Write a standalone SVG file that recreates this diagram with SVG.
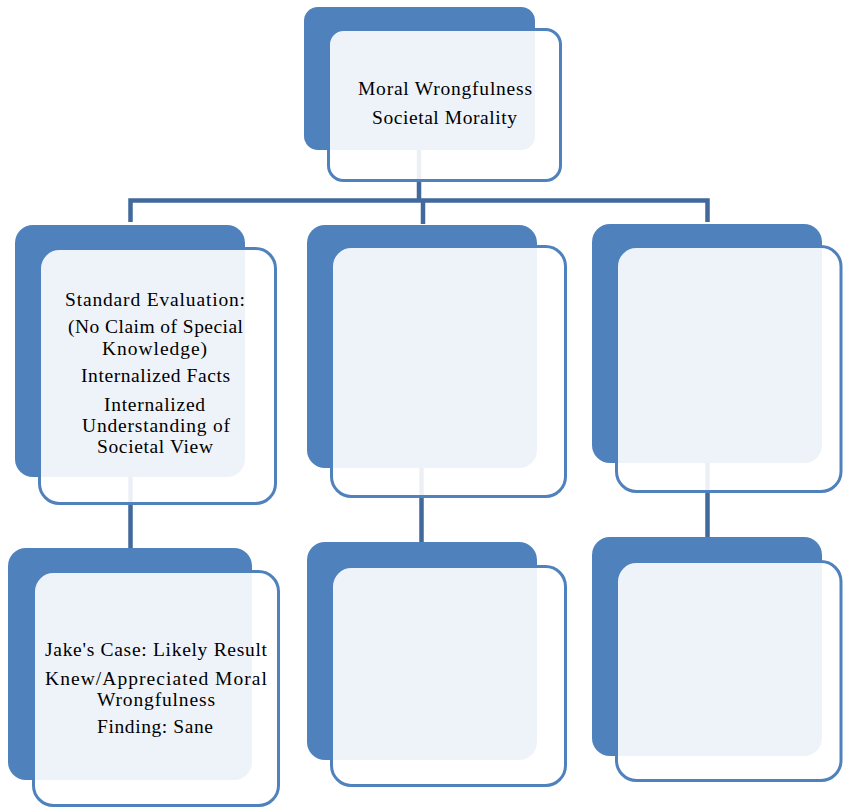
<svg xmlns="http://www.w3.org/2000/svg" width="843" height="808" viewBox="0 0 843 808">
<style>
.blue{fill:#4f81bd}
.box{fill:#ffffff;fill-opacity:0.9;stroke:#4f81bd;stroke-width:3}
.conn{fill:none;stroke:#41699c;stroke-width:4.5}
.t{font-family:"Liberation Serif","Times New Roman",serif;font-size:19.5px;fill:#000;text-anchor:middle}
</style>
<rect width="843" height="808" fill="#ffffff"/>
<g id="connectors">
<path class="conn" d="M419,150 V200.5 M130.5,222 V200.5 H707.5 V222 M423,200.5 V224"/>
<path class="conn" d="M130.5,477 V548"/>
<path class="conn" d="M421.5,468 V542"/>
<path class="conn" d="M707.5,463 V537"/>
</g>
<g id="node-top">
<rect class="blue" x="304" y="7" width="231" height="143" rx="14"/>
<rect class="box" x="328.5" y="29.5" width="232" height="151" rx="15"/>
<text class="t" x="445" y="95" textLength="174" lengthAdjust="spacing">Moral Wrongfulness</text>
<text class="t" x="444.5" y="124" textLength="145" lengthAdjust="spacing">Societal Morality</text>
</g>
<g id="node-standard">
<rect class="blue" x="15" y="225" width="230" height="252" rx="18"/>
<rect class="box" x="39.5" y="248.5" width="236" height="255" rx="20"/>
<text class="t" x="155" y="306" textLength="180" lengthAdjust="spacing">Standard Evaluation:</text>
<text class="t" x="155.5" y="333" textLength="175" lengthAdjust="spacing">(No Claim of Special</text>
<text class="t" x="154.5" y="355" textLength="105" lengthAdjust="spacing">Knowledge)</text>
<text class="t" x="155.5" y="382" textLength="149" lengthAdjust="spacing">Internalized Facts</text>
<text class="t" x="154.5" y="411" textLength="101" lengthAdjust="spacing">Internalized</text>
<text class="t" x="156" y="432" textLength="148" lengthAdjust="spacing">Understanding of</text>
<text class="t" x="155" y="453" textLength="116" lengthAdjust="spacing">Societal View</text>
</g>
<g id="node-mid">
<rect class="blue" x="307" y="225" width="230" height="243" rx="18"/>
<rect class="box" x="331.5" y="246.5" width="234" height="250" rx="20"/>
</g>
<g id="node-right">
<rect class="blue" x="592" y="224" width="230" height="239" rx="18"/>
<rect class="box" x="616.5" y="246.5" width="224.5" height="245" rx="20"/>
</g>
<g id="node-jake">
<rect class="blue" x="8" y="548" width="244" height="232" rx="18"/>
<rect class="box" x="33.5" y="571.5" width="245" height="234" rx="20"/>
<text class="t" x="156" y="656" textLength="222" lengthAdjust="spacing">Jake's Case: Likely Result</text>
<text class="t" x="156" y="685" textLength="222" lengthAdjust="spacing">Knew/Appreciated Moral</text>
<text class="t" x="156" y="706" textLength="118" lengthAdjust="spacing">Wrongfulness</text>
<text class="t" x="155" y="733" textLength="116" lengthAdjust="spacing">Finding: Sane</text>
</g>
<g id="node-mid-bottom">
<rect class="blue" x="307" y="542" width="230" height="218" rx="18"/>
<rect class="box" x="331.5" y="566.5" width="234" height="219" rx="20"/>
</g>
<g id="node-right-bottom">
<rect class="blue" x="592" y="537" width="230" height="219" rx="18"/>
<rect class="box" x="616.5" y="561.5" width="224.5" height="219" rx="20"/>
</g>
</svg>
